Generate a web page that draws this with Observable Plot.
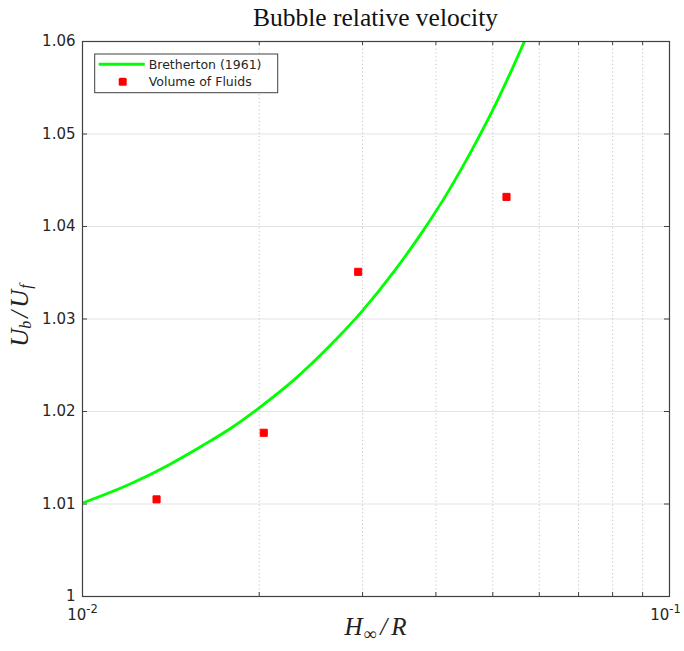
<!DOCTYPE html>
<html><head><meta charset="utf-8">
<script src="https://cdn.jsdelivr.net/npm/d3@7"></script>
<script src="https://cdn.jsdelivr.net/npm/@observablehq/plot@0.6"></script>
<style>
body{margin:0;background:#fff;}
#title{height:32px;margin-left:82px;width:587px;text-align:center;font-family:"Liberation Serif",serif;font-size:25.5px;line-height:36px;color:#111;}
#chart svg{display:block;}
</style></head><body>
<div id="title">Bubble relative velocity</div>
<div id="chart"></div>
<script>
// Bretherton (1961) curve
const brethX = [0.010, 0.012, 0.014, 0.016, 0.018, 0.020, 0.023, 0.026, 0.030, 0.034, 0.038, 0.042, 0.046, 0.050, 0.054, 0.0566];
const brethY = [1.0101, 1.0121, 1.0142, 1.0163, 1.0183, 1.0204, 1.0235, 1.0267, 1.0309, 1.0352, 1.0395, 1.0438, 1.0482, 1.0526, 1.0571, 1.0600];
// Volume of Fluids points
const vofX = [0.01337, 0.02036, 0.02949, 0.05276];
const vofY = [1.0105, 1.0177, 1.0351, 1.0432];
// ticks
const yTicks = [1, 1.01, 1.02, 1.03, 1.04, 1.05, 1.06];
const yGrid = [1.01, 1.02, 1.03, 1.04, 1.05];
const xMajor = [0.01, 0.1];
const xMajorBase = ["10", "10"];
const xMajorExp = ["-2", "-1"];
const xMinor = [0.02, 0.03, 0.04, 0.05, 0.06, 0.07, 0.08, 0.09];

const W = 684, H = 619;
const mL = 82, mR = 15, mT = 9, mB = 55;
const pw = W - mL - mR, ph = H - mT - mB;

const curve = brethX.map((x, i) => ({x, y: brethY[i]}));
const pts = vofX.map((x, i) => ({x, y: vofY[i]}));

const svg = Plot.plot({
  width: W, height: H,
  marginLeft: mL, marginRight: mR, marginTop: mT, marginBottom: mB,
  style: {fontFamily: "DejaVu Sans", fontSize: "15px", color: "#262626", background: "#fff"},
  x: {type: "log", domain: [0.01, 0.1]},
  y: {domain: [1, 1.06]},
  marks: [
    Plot.ruleY(yGrid, {stroke: "#e3e3e3", strokeWidth: 1}),
    Plot.ruleX(xMinor, {stroke: "#c4c4c4", strokeWidth: 1, strokeDasharray: "1.2,2.6"}),
    // inward ticks
    Plot.tickY(yTicks, {stroke: "#404040", insetRight: pw - 5}),
    Plot.tickY(yTicks, {stroke: "#404040", insetLeft: pw - 5}),
    Plot.tickX(xMinor, {stroke: "#404040", insetTop: ph - 4}),
    Plot.tickX(xMinor, {stroke: "#404040", insetBottom: ph - 4}),
    Plot.axisY(yTicks, {tickSize: 0, tickPadding: 7, fontSize: 15, tickFormat: d => d === 1 ? "1" : d3.format(".2f")(d), label: null}),
    Plot.axisX(xMajor, {tickSize: 0, tickPadding: 13, fontSize: 15, tickFormat: d => xMajorBase[xMajor.indexOf(d)], label: null}),
    Plot.line(curve, {x: "x", y: "y", stroke: "#00ff00", strokeWidth: 2.8, curve: "monotone-x", clip: true}),
    Plot.dot(pts, {x: "x", y: "y", symbol: "square", r: 4, fill: "#ff0000", stroke: "#ff0000", strokeWidth: 1, strokeLinejoin: "round"}),
    Plot.frame({stroke: "#404040", strokeWidth: 1.2})
  ]
});
document.getElementById("chart").appendChild(svg);

const s = d3.select(svg);
// superscript exponents on x tick labels
s.selectAll('g[aria-label="x-axis tick label"] text').each(function(d, i) {
  const t = d3.select(this);
  const base = t.text();
  const k = xMajorBase.indexOf(base) >= 0 ? i : i;
  t.text(null);
  t.append("tspan").text(base);
  t.append("tspan").attr("dy", -7).style("font-size", "11.5px").text(xMajorExp[k]);
  if (k === xMajor.length - 1) t.attr("dx", -4);
});

// axis labels
const yl = s.append("text")
  .attr("transform", `translate(22,${mT + ph / 2 - 3}) rotate(-90)`)
  .attr("text-anchor", "middle")
  .attr("dominant-baseline", "middle")
  .style("font-family", "Liberation Serif, serif").style("font-style", "italic").style("font-size", "25px").attr("fill", "#222");
yl.append("tspan").text("U");
yl.append("tspan").attr("dy", 5).style("font-size", "16px").text("b");
yl.append("tspan").attr("dy", -5).attr("dx", 3).text("/");
yl.append("tspan").attr("dx", 3).text("U");
yl.append("tspan").attr("dy", 5).attr("dx", 1).style("font-size", "16px").text("f");

const xl = s.append("text")
  .attr("x", mL + pw / 2).attr("y", H - 16)
  .attr("text-anchor", "middle")
  .style("font-family", "Liberation Serif, serif").style("font-style", "italic").style("font-size", "25px").attr("fill", "#222");
xl.append("tspan").text("H");
xl.append("tspan").attr("dy", 5).attr("dx", 1).style("font-size", "18px").style("font-style", "normal").text("\u221E");
xl.append("tspan").attr("dy", -5).attr("dx", 4).text("/");
xl.append("tspan").attr("dx", 4).text("R");

// legend
const lg = s.append("g").attr("transform", `translate(${mL + 12.7},${mT + 13})`).attr("text-anchor", "start");
lg.append("rect").attr("width", 183).attr("height", 38.7).attr("fill", "#fff").attr("stroke", "#404040").attr("stroke-width", 1);
lg.append("line").attr("x1", 4).attr("x2", 50).attr("y1", 10.3).attr("y2", 10.3).attr("stroke", "#00ff00").attr("stroke-width", 3);
lg.append("rect").attr("x", 24).attr("y", 23.7).attr("width", 8).attr("height", 8).attr("rx", 1.5).attr("fill", "#ff0000");
lg.append("text").attr("x", 54).attr("y", 10.3).attr("text-anchor", "start").attr("dominant-baseline", "central").style("font-family", "DejaVu Sans").style("font-size", "12.5px").attr("fill", "#262626").text("Bretherton (1961)");
lg.append("text").attr("x", 54).attr("y", 27.7).attr("text-anchor", "start").attr("dominant-baseline", "central").style("font-family", "DejaVu Sans").style("font-size", "12.5px").attr("fill", "#262626").text("Volume of Fluids");
</script></body></html>
